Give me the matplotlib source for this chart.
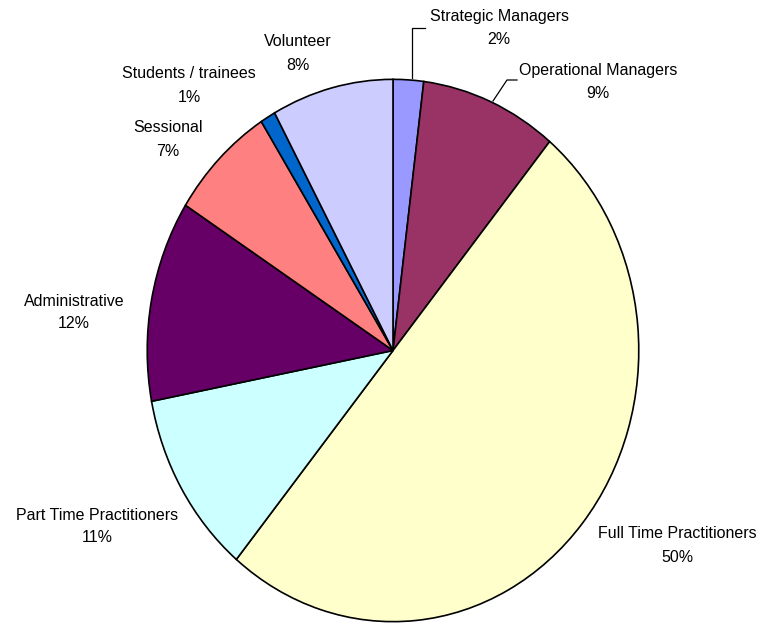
import matplotlib
matplotlib.use("Agg")
import matplotlib.pyplot as plt

# Staff composition by role
categories = [
    "Strategic Managers",
    "Operational Managers",
    "Full Time Practitioners",
    "Part Time Practitioners",
    "Administrative",
    "Sessional",
    "Students / trainees",
    "Volunteer",
]
percentages = [2, 9, 50, 11, 12, 7, 1, 8]
colors = ["#9999FF", "#993366", "#FFFFCC", "#CCFFFF",
          "#660066", "#FF8080", "#0066CC", "#CCCCFF"]

# label centres in figure pixels (x, y of first line, measured from top)
label_pos = [(499, 17), (598, 70), (677, 534), (97, 515),
             (74, 301), (168, 128), (189, 74), (298, 42)]

W, H = 763, 625
fig = plt.figure(figsize=(W / 100, H / 100), dpi=100)
fig.patch.set_facecolor("white")

# elliptical pie: axes box spans the ellipse bounding box
left, right, top, bottom = 146, 640, 78, 623
ax = fig.add_axes([left / W, (H - bottom) / H, (right - left) / W, (bottom - top) / H])
ax.pie(percentages, colors=colors, startangle=90, counterclock=False,
       radius=1.0, center=(0, 0),
       wedgeprops=dict(edgecolor="black", linewidth=1.2))
ax.set_aspect("auto")
ax.set_xlim(-1.005, 1.005)
ax.set_ylim(-1.005, 1.005)
ax.axis("off")

# overlay in pixel coordinates for labels and leader lines
ov = fig.add_axes([0, 0, 1, 1], facecolor="none")
ov.set_xlim(0, W)
ov.set_ylim(H, 0)
ov.axis("off")

font = dict(family=["Liberation Sans", "DejaVu Sans"], fontsize=11.5, color="black",
            ha="center", va="center")
for name, pct, (x, y) in zip(categories, percentages, label_pos):
    ov.text(x, y, name, **font)
    ov.text(x, y + 23, f"{pct}%", **font)

# leader lines for the two small top slices
ov.plot([425, 412, 412], [28, 28, 78], color="black", lw=0.9)
ov.plot([517, 507, 493], [80, 80, 101], color="black", lw=0.9)

fig.savefig("out.png", dpi=100)
